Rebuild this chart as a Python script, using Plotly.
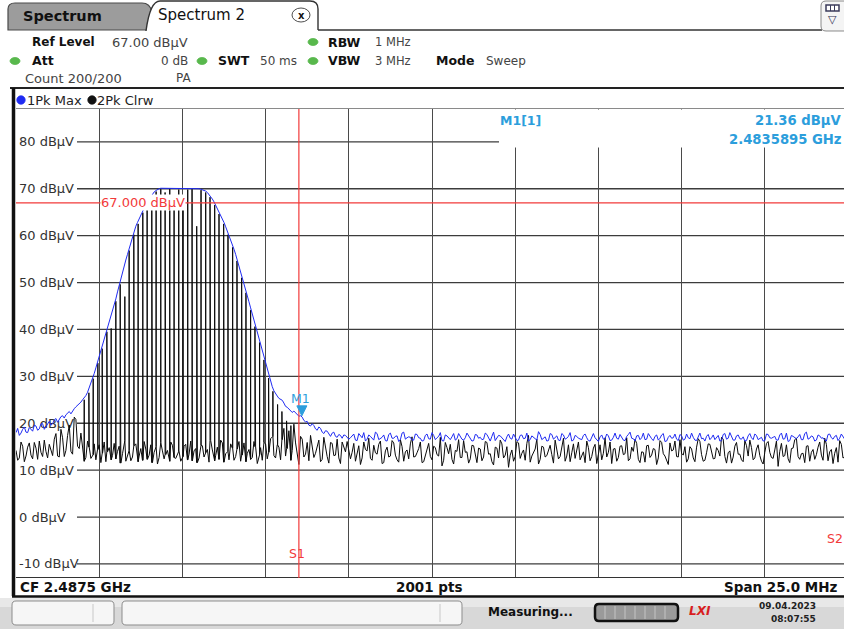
import numpy as np
import plotly.graph_objects as go

# ---------------- data ----------------
FREQ_START_MHZ = 2475.0
FREQ_STEP_MHZ = 0.1
SPAN_MHZ = 25.0

# Trace 1 (Pk Max, blue) in dBuV at 2475.0, 2475.1, ... 2500.0 MHz
trace1_max = [
    18.0, 17.4, 18.7, 18.1, 19.1, 18.3, 19.4, 18.8, 19.9, 19.3,
    20.4, 19.9, 21.0, 20.8, 21.6, 21.8, 22.5, 22.7, 23.5, 24.2,
    25.0, 25.9, 27.5, 29.5, 31.8, 34.2, 36.7, 39.2, 41.6, 43.8,
    46.5, 49.5, 52.2, 54.8, 57.2, 59.8, 62.0, 63.6, 65.2, 66.6,
    67.8, 68.9, 69.6, 70.0, 70.1, 70.1, 70.0, 70.1, 70.1, 70.0,
    70.1, 70.1, 70.0, 70.1, 70.1, 70.0, 69.8, 69.5, 68.8, 67.8,
    66.5, 65.0, 63.6, 61.9, 60.1, 58.2, 56.0, 53.6, 51.0, 48.5,
    45.9, 43.3, 40.7, 38.2, 35.6, 32.6, 30.0, 27.8, 26.2, 25.3,
    24.9, 23.6, 23.1, 22.3, 22.2, 21.5, 21.3, 20.3, 19.6, 19.9,
    18.8, 19.2, 18.1, 18.4, 17.6, 17.9, 17.2, 17.6, 16.8, 17.4,
    16.6,
    17.3, 16.4, 17.8, 16.9, 16.2, 17.5, 16.7, 18.1, 16.5, 17.0,
    16.3, 17.6, 16.8, 17.2, 16.1, 17.9, 16.6, 17.1, 16.4, 17.7,
    16.9, 16.2, 17.4, 16.7, 18.0, 16.5, 17.2, 16.3, 17.5, 16.8,
    17.1, 16.4, 17.8, 16.6, 16.9, 17.3, 16.2, 17.6, 16.8, 16.5,
    17.9, 16.7, 17.2, 16.3, 17.4, 16.9, 16.1, 17.7, 16.6, 17.0,
    16.4, 17.5, 16.8, 16.2, 17.3, 16.7, 18.2, 16.5, 17.1, 16.3,
    17.6, 16.9, 16.4, 17.8, 16.6, 17.2, 16.2, 17.4, 16.8, 16.5,
    17.7, 16.3, 17.0, 16.9, 16.1, 17.5, 16.7, 17.3, 16.4, 17.9,
    16.6, 17.1, 16.3, 17.6, 16.8, 16.2, 17.4, 16.9, 16.5, 17.8,
    16.7, 17.2, 16.4, 17.5, 16.1, 17.0, 16.8, 17.7, 16.3, 17.3,
    16.6, 16.9, 17.9, 16.4, 17.2, 16.7, 16.2, 17.6, 16.9, 16.5,
    17.4, 16.3, 17.8, 16.8, 17.1, 16.4, 17.5, 16.6, 16.2, 17.3,
    16.9, 17.7, 16.5, 17.0, 16.3, 17.6, 16.8, 17.2, 16.4, 17.9,
    16.7, 16.1, 17.4, 16.9, 17.1, 16.5, 17.8, 16.6, 17.3, 16.2,
    17.5, 16.8, 16.4, 17.6, 16.9, 17.2, 16.3, 17.7, 16.6, 17.0,
]
# Trace 1 at the in-between samples 2475.05, 2475.15, ... 2499.95 MHz
trace1_max_mid = [
    18.9, 17.9, 19.2, 18.0, 18.8, 19.6, 18.5, 19.9, 18.7, 20.1,
    19.6, 20.7, 20.2, 21.4, 21.1, 22.2, 22.0, 23.1, 23.8, 24.5,
    25.4, 26.6, 28.4, 30.6, 33.0, 35.5, 38.0, 40.4, 42.7, 45.1,
    48.0, 50.9, 53.5, 56.0, 58.5, 60.9, 62.8, 64.4, 65.9, 67.2,
    68.4, 69.3, 69.9, 70.1, 70.0, 70.1, 70.1, 70.0, 70.1, 70.1,
    70.0, 70.1, 70.1, 70.0, 70.1, 69.9, 69.7, 69.2, 68.3, 67.2,
    65.8, 64.3, 62.8, 61.0, 59.2, 57.1, 54.8, 52.3, 49.8, 47.2,
    44.6, 42.0, 39.5, 36.9, 34.1, 31.3, 28.8, 26.9, 25.8, 25.1,
    24.3, 23.4, 22.6, 22.6, 21.8, 21.6, 20.6, 20.4, 19.4, 19.5,
    18.5, 18.9, 17.8, 18.3, 17.2, 18.1, 17.0, 17.4, 17.5, 16.9,
    16.9, 17.7, 16.3, 17.4, 18.0, 16.6, 17.2, 16.4, 17.8, 16.7,
    17.5, 16.2, 17.9, 16.8, 17.3, 16.5, 18.1, 16.9, 17.0, 16.4,
    17.6, 16.8, 16.3, 17.7, 16.6, 17.4, 16.9, 18.0, 16.2, 17.3,
    16.5, 17.8, 16.7, 17.2, 16.4, 17.9, 16.8, 16.3, 17.5, 17.0,
    16.6, 17.6, 16.2, 18.1, 16.9, 17.3, 16.5, 17.1, 16.8, 17.7,
    16.3, 17.4, 16.7, 17.9, 16.5, 17.0, 16.4, 17.6, 16.9, 16.2,
    17.8, 16.6, 17.3, 16.3, 17.5, 16.8, 18.0, 16.4, 17.2, 16.7,
    17.4, 16.9, 16.2, 17.8, 16.5, 17.1, 16.6, 17.7, 16.3, 17.0,
    16.8, 17.6, 16.4, 17.2, 18.1, 16.7, 17.3, 16.5, 17.9, 16.6,
    17.1, 16.3, 17.5, 16.8, 17.8, 16.2, 17.4, 16.9, 16.6, 17.6,
    16.4, 17.7, 16.7, 17.0, 16.3, 17.9, 16.8, 17.2, 16.5, 17.5,
    16.9, 16.2, 17.6, 16.6, 18.0, 16.4, 17.3, 16.7, 17.1, 16.3,
    17.8, 16.5, 17.4, 16.8, 16.2, 17.7, 16.9, 17.0, 16.4, 17.5,
    16.6, 17.9, 16.3, 17.2, 16.7, 17.6, 16.5, 18.1, 16.8, 17.1,
    16.4, 17.3, 16.9, 16.2, 17.7, 16.6, 17.4, 16.8, 17.0, 16.5,
]

# Trace 2 (Pk Clrw, black) noise floor in dBuV at 2475.0 ... 2500.0 MHz
trace2_noise = [
    14.2, 12.6, 15.1, 13.0, 15.8, 12.4, 14.7, 16.2, 12.9, 14.0,
    15.5, 13.1, 17.8, 12.8, 16.9, 14.2, 19.6, 13.4, 20.8, 14.6,
    15.2, 12.7, 14.9, 13.3, 12.2, 15.4, 13.6, 11.8, 14.8, 13.1,
    12.4, 15.1, 13.5, 11.9, 14.2, 12.8, 15.6, 13.0, 12.1, 14.5,
    13.2, 11.6, 15.0, 12.7, 14.1, 13.3, 11.9, 15.3, 12.5, 14.0,
    12.9, 15.5, 13.4, 12.0, 14.6, 12.6, 15.2, 13.7, 11.7, 14.3,
    13.1, 12.3, 15.8, 13.5, 12.2, 14.7, 12.9, 16.1, 13.2, 11.8,
    14.4, 12.7, 15.0, 13.3, 12.1, 15.6, 13.8, 17.2, 12.6, 14.9,
    16.5, 13.0, 18.4, 14.2, 15.8, 11.2, 16.6, 13.4, 12.0, 15.1,
    13.6, 16.4, 12.3, 14.8, 11.5, 15.7, 13.2, 12.6, 16.0, 13.9,
    14.3,
    13.8, 11.9, 15.2, 12.6, 14.4, 16.8, 12.1, 13.7, 15.5, 11.4,
    14.1, 12.8, 16.3, 13.2, 11.7, 15.0, 13.9, 12.4, 17.1, 12.9,
    14.6, 11.6, 13.3, 15.7, 12.2, 14.8, 13.0, 10.9, 15.9, 13.5,
    12.3, 14.2, 16.5, 12.7, 13.8, 11.5, 15.3, 13.1, 14.7, 12.0,
    16.1, 13.4, 11.8, 14.9, 12.6, 15.6, 13.2, 10.6, 14.3, 12.9,
    15.8, 13.6, 12.1, 17.4, 13.0, 14.5, 11.3, 15.1, 12.8, 14.0,
    13.3, 16.4, 12.4, 14.7, 11.9, 15.4, 13.7, 12.5, 16.0, 13.1,
    11.6, 14.8, 12.9, 15.5, 13.4, 12.2, 16.9, 13.8, 11.4, 14.6,
    12.7, 15.2, 13.5, 12.0, 14.9, 16.6, 12.3, 13.9, 11.7, 15.3,
    13.2, 14.4, 12.6, 15.9, 13.0, 11.2, 14.1, 16.2, 12.8, 13.6,
    15.0, 12.4, 14.5, 11.8, 16.7, 13.3, 12.1, 15.6, 13.9, 12.5,
    14.2, 17.0, 12.9, 13.7, 11.5, 15.1, 13.4, 12.2, 16.3, 13.0,
    14.8, 12.6, 15.4, 11.9, 13.8, 16.1, 12.7, 14.3, 10.8, 15.7,
    13.1, 12.4, 14.6, 16.5, 12.9, 13.5, 11.6, 15.2, 13.8, 12.3,
    14.9, 13.2, 16.8, 12.0, 14.4, 13.6, 11.7, 15.5, 12.8, 14.1,
]
# Trace 2 noise floor at the in-between samples 2475.05 ... 2499.95 MHz
trace2_noise_mid = [
    12.1, 16.0, 11.8, 14.9, 13.2, 15.9, 12.3, 13.8, 16.4, 12.6,
    14.1, 16.6, 13.0, 18.7, 12.9, 17.4, 14.0, 21.3, 15.1, 17.9,
    11.9, 16.2, 12.5, 15.6, 14.4, 11.6, 16.0, 13.9, 12.2, 15.7,
    14.0, 11.5, 16.3, 13.4, 12.0, 15.2, 11.8, 14.6, 16.1, 12.3,
    15.4, 13.8, 11.3, 15.9, 12.4, 14.2, 16.0, 12.7, 13.6, 11.9,
    15.1, 12.2, 16.2, 14.1, 11.6, 15.3, 12.8, 14.4, 16.3, 12.0,
    14.9, 16.4, 11.7, 14.0, 15.6, 12.1, 14.5, 11.9, 15.8, 13.6,
    12.3, 16.1, 11.4, 14.8, 15.9, 12.4, 16.7, 13.1, 15.4, 12.2,
    18.9, 14.6, 12.1, 19.8, 13.0, 17.2, 12.8, 15.9, 17.4, 12.7,
    15.2, 11.8, 17.0, 12.9, 15.9, 13.1, 16.6, 11.4, 14.7, 16.1,
    12.4, 15.7, 13.6, 11.2, 16.0, 14.1, 12.5, 15.3, 13.4, 16.2,
    11.6, 14.9, 13.0, 15.8, 12.2, 16.5, 11.9, 14.3, 15.6, 12.8,
    13.7, 16.0, 11.8, 14.6, 12.9, 15.1, 13.3, 17.0, 12.1, 14.8,
    15.5, 11.3, 14.0, 12.7, 16.3, 13.9, 12.4, 15.2, 11.6, 14.5,
    12.8, 15.9, 13.5, 11.1, 14.7, 16.4, 12.6, 15.0, 13.2, 11.9,
    16.1, 12.5, 14.3, 15.7, 11.7, 13.8, 16.6, 12.3, 14.9, 13.1,
    15.3, 11.5, 14.4, 12.9, 16.8, 13.0, 11.8, 15.6, 14.2, 12.2,
    13.9, 16.2, 12.0, 14.7, 11.4, 15.4, 13.6, 12.8, 16.0, 14.5,
    11.9, 15.1, 13.3, 16.9, 12.4, 14.0, 15.7, 11.6, 13.8, 15.2,
    12.7, 14.6, 11.2, 16.3, 13.5, 12.1, 15.8, 14.3, 12.9, 16.5,
    13.2, 11.7, 15.0, 12.6, 14.9, 16.1, 11.9, 13.7, 15.5, 12.4,
    14.8, 13.0, 16.6, 11.5, 14.1, 12.8, 15.9, 13.4, 11.8, 15.2,
    16.4, 12.2, 14.5, 13.1, 11.3, 15.7, 13.8, 12.5, 16.2, 14.0,
    12.9, 15.4, 11.6, 14.7, 16.8, 12.3, 13.6, 15.1, 11.9, 14.4,
    13.3, 16.0, 12.1, 15.5, 13.9, 11.4, 14.8, 16.3, 12.6, 15.0,
]

# Trace 2 (Pk Clrw) pulse hits: frequency in MHz and level in dBuV
spike_freq = [
    2477.05, 2477.19, 2477.32, 2477.46, 2477.59, 2477.73, 2477.86, 2478.00,
    2478.13, 2478.27, 2478.40, 2478.54, 2478.67, 2478.81, 2478.94, 2479.08,
    2479.21, 2479.35, 2479.48, 2479.62, 2479.75, 2479.89, 2480.02, 2480.16,
    2480.29, 2480.43, 2480.56, 2480.70, 2480.83, 2480.97, 2481.10, 2481.24,
    2481.37, 2481.51, 2481.64, 2481.78, 2481.91, 2482.05, 2482.18, 2482.32,
    2482.45, 2482.59, 2482.72, 2482.86, 2482.99, 2483.13, 2483.26,
]
spike_level = [
    25.0, 26.5, 29.5, 32.8, 35.9, 39.5, 40.2, 46.0,
    49.6, 47.0, 56.8, 60.2, 62.5, 64.9, 66.6, 68.2,
    69.4, 69.9, 69.2, 69.9, 68.5, 69.8, 66.0, 69.8,
    69.9, 62.0, 69.7, 69.2, 68.2, 66.5, 64.6, 62.5,
    60.2, 57.5, 54.6, 51.0, 47.8, 44.1, 40.6, 37.2,
    33.5, 29.6, 26.8, 24.0, 22.5, 20.5, 19.5,
]

y_ticks = [80, 70, 60, 50, 40, 30, 20, 10, 0, -10]
display_line_dbuv = 67.0
search_limit_s1_mhz = 2483.5
marker_m1_freq_mhz = 2483.5895
marker_m1_level = 21.36

# ---------------- geometry helpers ----------------
W, H = 844, 629
FONT = "DejaVu Sans"
BLUE_MK = "#2C9EDC"
RED = "#F23A3A"

def px(x):
    return x / W

def py(y):
    return 1 - y / H

# sweep sample grid (main and in-between samples interleaved)
n_main = len(trace1_max)
f_main = np.round(FREQ_START_MHZ + FREQ_STEP_MHZ * np.arange(n_main), 4)
f_mid = np.round(f_main[:-1] + FREQ_STEP_MHZ / 2, 4)
freq = np.empty(n_main + len(f_mid))
freq[0::2] = f_main
freq[1::2] = f_mid
t1 = np.empty_like(freq)
t1[0::2] = trace1_max
t1[1::2] = trace1_max_mid
t2 = np.empty_like(freq)
t2[0::2] = trace2_noise
t2[1::2] = trace2_noise_mid

# plot area in page pixels
PL, PR, PT, PB = 16, 844, 109, 578
ppm = 832 / SPAN_MHZ           # pixels per MHz (10 divisions of 83.2 px)
x_lo = FREQ_START_MHZ
x_hi = FREQ_START_MHZ + (PR - PL) / ppm
y_lo, y_hi = -13.0, 87.0

# build trace 2 with the pulse hits inserted
pts = [(float(f), float(v), 0) for f, v in zip(freq, t2)]
for f, lv in zip(spike_freq, spike_level):
    idx = int(np.argmin(np.abs(freq - f)))
    base = float(t2[idx])
    pts += [(f, base, 1), (f, lv, 2), (f, base, 3)]
pts.sort(key=lambda p: (p[0], p[2]))
t2x = [p[0] for p in pts]
t2y = [p[1] for p in pts]

fig = go.Figure()
fig.add_trace(go.Scatter(x=t2x, y=t2y, mode="lines",
                         line=dict(color="#0A0A0A", width=1), hoverinfo="skip"))
fig.add_trace(go.Scatter(x=freq, y=t1, mode="lines",
                         line=dict(color="#1F2BF2", width=1), hoverinfo="skip"))

shapes = []
ann = []

def text(x, y, s, size=12, color="#222222", bold=False, anchor="left", bg=None, italic=False):
    a = dict(x=px(x), y=py(y), xref="paper", yref="paper", text=s,
             showarrow=False, xanchor=anchor, yanchor="middle",
             font=dict(family=FONT, size=size, color=color,
                       weight="bold" if bold else "normal",
                       style="italic" if italic else "normal"),
             borderpad=0)
    if bg:
        a["bgcolor"] = bg
    ann.append(a)

def rect(x0, y0, x1, y1, fill=None, line=None, lw=1, layer="above"):
    shapes.append(dict(type="rect", xref="paper", yref="paper",
                       x0=px(x0), x1=px(x1), y0=py(y0), y1=py(y1),
                       fillcolor=fill or "rgba(0,0,0,0)",
                       line=dict(color=line or "rgba(0,0,0,0)", width=lw if line else 0),
                       layer=layer))

def hline(x0, x1, y, color, lw=1, layer="above"):
    shapes.append(dict(type="line", xref="paper", yref="paper",
                       x0=px(x0), x1=px(x1), y0=py(y), y1=py(y),
                       line=dict(color=color, width=lw), layer=layer))

def vline(x, y0, y1, color, lw=1, layer="above"):
    shapes.append(dict(type="line", xref="paper", yref="paper",
                       x0=px(x), x1=px(x), y0=py(y0), y1=py(y1),
                       line=dict(color=color, width=lw), layer=layer))

def path(cmds, fill, line, lw=1):
    out = []
    for c in cmds:
        if c[0] == "Z":
            out.append("Z")
        elif c[0] == "Q":
            out.append(f"Q{px(c[1]):.5f},{py(c[2]):.5f} {px(c[3]):.5f},{py(c[4]):.5f}")
        else:
            out.append(f"{c[0]}{px(c[1]):.5f},{py(c[2]):.5f}")
    shapes.append(dict(type="path", xref="paper", yref="paper", path=" ".join(out),
                       fillcolor=fill, line=dict(color=line, width=lw), layer="above"))

def rrect(x0, y0, x1, y1, r, fill, line, lw=1):
    path([("M", x0 + r, y0), ("L", x1 - r, y0), ("Q", x1, y0, x1, y0 + r),
          ("L", x1, y1 - r), ("Q", x1, y1, x1 - r, y1), ("L", x0 + r, y1),
          ("Q", x0, y1, x0, y1 - r), ("L", x0, y0 + r), ("Q", x0, y0, x0 + r, y0),
          ("Z",)], fill, line, lw)

def dot(cx, cy, rx, ry, fill, line=None):
    shapes.append(dict(type="circle", xref="paper", yref="paper",
                       x0=px(cx - rx), x1=px(cx + rx), y0=py(cy + ry), y1=py(cy - ry),
                       fillcolor=fill, line=dict(color=line or fill, width=0.8),
                       layer="above"))

# ---------- top tabs ----------
path([("M", 8, 30), ("L", 8, 9), ("Q", 8, 3, 15, 3), ("L", 142, 3),
      ("Q", 150, 3, 152, 12), ("L", 152, 30), ("Z",)], "#9C9C9C", "#4A4A4A", 1.2)
path([("M", 146, 31), ("Q", 150, 1, 160, 1), ("L", 310, 1), ("Q", 318, 1, 318, 9),
      ("L", 318, 30)], "#FFFFFF", "#333333", 1.4)
hline(318, 822, 30, "#333333", 1.6)
text(22, 16, "Spectrum", 14.5, "#111111", True)
text(157, 15, "Spectrum 2", 15, "#111111")
dot(301, 15, 9, 7, "#FFFFFF", "#222222")
text(301, 15, "x", 10, "#111111", True, "center")
# top right icon
path([("M", 846, 1), ("L", 826, 1), ("Q", 821, 1, 821, 6), ("L", 821, 26),
      ("Q", 821, 31, 826, 31), ("L", 846, 31)], "#F4F4F4", "#8A8A8A", 1)
rect(826, 5, 839, 11, "#FFFFFF", "#3A3A5A", 1.5)
vline(830.5, 5, 11, "#3A3A5A", 1)
vline(834.5, 5, 11, "#3A3A5A", 1)
text(832.5, 20, "▽", 11, "#333355", False, "center")

# ---------- header info ----------
text(31, 42, "Ref Level", 12, "#111111", True)
text(189, 42, "67.00 dBµV", 13, "#444444", anchor="right")
dot(313, 42, 5, 3.5, "#58B84C")
text(327, 42, "RBW", 12.5, "#111111", True)
text(374, 42, "1 MHz", 11.5, "#444444")
dot(15, 61, 5, 3.5, "#58B84C")
text(31, 61, "Att", 12.5, "#111111", True)
text(189, 61, "0 dB", 12, "#444444", anchor="right")
dot(202, 61, 5, 3.5, "#58B84C")
text(217, 61, "SWT", 12.5, "#111111", True)
text(259, 61, "50 ms", 12, "#444444")
dot(313, 61, 5, 3.5, "#58B84C")
text(327, 61, "VBW", 12.5, "#111111", True)
text(374, 61, "3 MHz", 11.5, "#444444")
text(435, 61, "Mode", 12.5, "#111111", True)
text(485, 61, "Sweep", 12, "#444444")
text(24, 78, "Count 200/200", 13, "#444444")
text(175, 78, "PA", 12, "#444444")
hline(10, 846, 88, "#222222", 2)

# legend row
dot(21, 100, 4.2, 4.2, "#1F2BF2")
text(26, 100, "1Pk Max", 13, "#222222")
dot(92, 100, 4.2, 4.2, "#111111")
text(96, 100, "2Pk Clrw", 13, "#222222")

# plot frame
hline(16, 846, 108.5, "#8A8A8A", 1.2)
vline(13.5, 88, 596, "#111111", 3.5)
hline(16, 846, 577.5, "#333333", 1.2)

# bottom info row
text(19, 587, "CF 2.4875 GHz", 13.5, "#111111", True)
text(429, 587, "2001 pts", 13.5, "#111111", True, "center")
text(839, 587, "Span 25.0 MHz", 13.5, "#111111", True, "right")
hline(12, 846, 596.5, "#111111", 2.5)

# status bar
rect(0, 598, 846, 630, "#D8D8D8", None, 0)
rect(0, 598, 846, 607, "#E8E8E8", None, 0)
rrect(12, 601, 114, 625, 4, "#F6F6F6", "#8C8C8C", 1)
vline(93, 604, 622, "#C8C8C8", 1)
rrect(122, 601, 462, 625, 4, "#F6F6F6", "#8C8C8C", 1)
vline(440, 604, 622, "#C8C8C8", 1)
text(487, 612, "Measuring...", 12, "#111111", True)
rrect(595, 604, 678, 621, 4, "#9A9A9A", "#111111", 2.5)
for sx in (605, 615, 625, 635, 645, 655, 665):
    vline(sx, 606, 619, "#C4C4C4", 1)
text(700, 611, "LXI", 12, "#D81E1E", True, "center", italic=True)
text(817, 606, "09.04.2023", 9, "#222222", True, "right")
text(817, 619, "08:07:55", 9, "#222222", True, "right")

# ---------- plot overlays ----------
gx0 = x_lo + (77 - PL) / ppm
for v in y_ticks:
    shapes.append(dict(type="line", xref="x", yref="y", x0=gx0, x1=x_hi, y0=v, y1=v,
                       line=dict(color="#3C3C3C", width=1.3), layer="below"))
# marker table area
rect(499, 109.5, 846, 147.5, "#FFFFFF", None, 0)
text(499, 121, "M1[1]", 12.5, BLUE_MK, True)
text(843, 121, f"{marker_m1_level:.2f} dBµV", 13.2, BLUE_MK, True, "right")
text(843, 139, f"{marker_m1_freq_mhz/1000:.7f} GHz", 13.2, BLUE_MK, True, "right")

# display line D1
shapes.append(dict(type="line", xref="paper", yref="y", x0=px(PL), x1=1,
                   y0=display_line_dbuv, y1=display_line_dbuv,
                   line=dict(color=RED, width=1.2), layer="above"))
ann.append(dict(x=x_lo + (100 - PL) / ppm, y=display_line_dbuv, xref="x", yref="y",
                text=f"{display_line_dbuv:.3f} dBµV", showarrow=False, xanchor="left",
                yanchor="middle", bgcolor="#FFFFFF", borderpad=0,
                font=dict(family=FONT, size=13, color=RED)))
# search limit S1
shapes.append(dict(type="line", xref="x", yref="paper",
                   x0=search_limit_s1_mhz, x1=search_limit_s1_mhz,
                   y0=py(PB), y1=py(PT), line=dict(color=RED, width=1.2), layer="above"))
ann.append(dict(x=search_limit_s1_mhz, y=py(553), xref="x", yref="paper", text="S1",
                showarrow=False, xanchor="center", yanchor="middle", xshift=-2,
                font=dict(family=FONT, size=12.5, color=RED)))
text(844, 538, "S2", 12.5, RED, False, "right")

# marker M1
shapes.append(dict(type="path", xref="x", yref="y", xsizemode="pixel", ysizemode="pixel",
                   xanchor=marker_m1_freq_mhz, yanchor=marker_m1_level,
                   path="M-5,11 L5,11 L0,1 Z", fillcolor=BLUE_MK,
                   line=dict(color=BLUE_MK, width=1), layer="above"))
ann.append(dict(x=marker_m1_freq_mhz, y=marker_m1_level, xref="x", yref="y", text="M1",
                showarrow=False, xanchor="center", yanchor="middle", yshift=18, xshift=-1,
                font=dict(family=FONT, size=12.5, color=BLUE_MK)))

fig.update_layout(
    width=W, height=H, margin=dict(l=0, r=0, t=0, b=0),
    paper_bgcolor="#FFFFFF", plot_bgcolor="#FFFFFF", showlegend=False,
    shapes=shapes, annotations=ann,
    xaxis=dict(domain=[px(PL), 1], range=[x_lo, x_hi], showgrid=True,
               gridcolor="#4A4A4A", gridwidth=1.3, tick0=FREQ_START_MHZ,
               dtick=SPAN_MHZ / 10, showticklabels=False, ticks="",
               zeroline=False, showline=False, fixedrange=True),
    yaxis=dict(domain=[py(PB), py(PT)], range=[y_lo, y_hi], showgrid=False,
               tickvals=y_ticks, ticktext=[f"{v} dBµV" for v in y_ticks],
               ticklabelposition="inside", ticks="", layer="below traces",
               tickfont=dict(family=FONT, size=13, color="#333333"),
               zeroline=False, showline=False, fixedrange=True),
)

# the page body has no margin, so the figure fills the 844x629 window exactly
fig.write_html("out.html", config={"displayModeBar": False},
               post_script="document.body.style.margin='0px';")
